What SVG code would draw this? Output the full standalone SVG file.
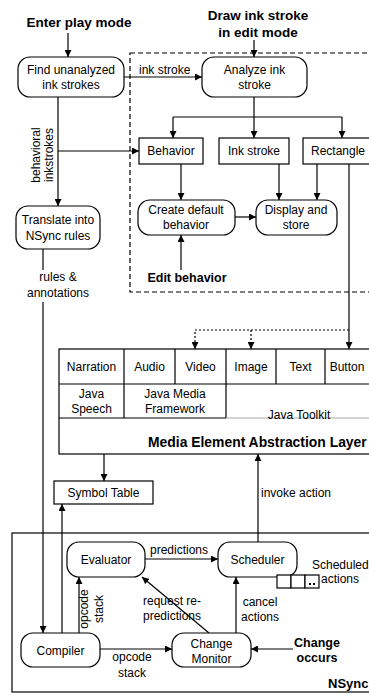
<svg xmlns="http://www.w3.org/2000/svg" width="369" height="696" viewBox="0 0 369 696">
<defs>
<marker id="ah" viewBox="0 0 8 8" refX="8" refY="4" markerWidth="7" markerHeight="7" orient="auto" markerUnits="userSpaceOnUse"><path d="M0,0 L8,4 L0,8 z" fill="#000"/></marker>
<style>
text{font-family:"Liberation Sans",Arial,sans-serif;font-size:12px;fill:#000}
.m{text-anchor:middle}
.b{font-weight:bold;font-size:13.5px}
.bs{font-weight:bold;font-size:12.5px}
.box{fill:#fff;stroke:#000;stroke-width:1.2}
.ln{fill:none;stroke:#000;stroke-width:1.2}
.ar{fill:none;stroke:#000;stroke-width:1.2;marker-end:url(#ah)}
.dt{fill:none;stroke:#000;stroke-width:1.2;stroke-dasharray:2,2}
</style>
</defs>
<rect width="369" height="696" fill="#fff"/>
<g id="titles">
<text class="b m" x="79" y="27">Enter play mode</text>
<text class="b m" x="258" y="20">Draw ink stroke</text>
<text class="b m" x="258" y="37">in edit mode</text>
</g>
<rect id="edit-mode-region" x="130" y="53" width="250" height="239" fill="none" stroke="#000" stroke-width="1.2" stroke-dasharray="5,3"/>
<g id="connectors">
<path class="ar" d="M68,33 V57"/>
<path class="ar" d="M254,40 V57"/>
<path class="ar" d="M124,77 H202"/>
<path class="ar" d="M254,97 V138"/>
<path class="ln" d="M173,117 H342"/>
<path class="ar" d="M173,117 V138"/>
<path class="ar" d="M342,117 V138"/>
<path class="ar" d="M58,97 V206"/>
<path class="ar" d="M58,151 H139"/>
<path class="ar" d="M181,164 V200"/>
<path class="ar" d="M279,164 V200"/>
<path class="ar" d="M317,164 V200"/>
<path class="ar" d="M235,217 H256"/>
<path class="ar" d="M181,270 V235"/>
<path class="ar" d="M349,164 V349"/>
<path class="dt" d="M349,330 H195 V343"/>
<path class="ar" d="M195,342 V349"/>
<path class="dt" d="M251,330 V343"/>
<path class="ar" d="M251,342 V349"/>
<path class="ln" d="M43,249 V270"/>
<path class="ar" d="M43,302 V633"/>
<path class="ar" d="M104,454 V481"/>
<path class="ar" d="M62,633 V504"/>
<path class="ar" d="M258,542 V454"/>
<path class="ar" d="M145,559 H218"/>
<path class="ar" d="M79,633 V577"/>
<path class="ar" d="M100,649 H172"/>
<path class="ar" d="M236,633 V577"/>
<path class="ar" d="M209,633 L142,577"/>
<path class="ar" d="M293,649 H251"/>
<text x="139" y="74">ink stroke</text>
<text class="m" transform="translate(40,155) rotate(-90)">behavioral</text>
<text class="m" transform="translate(53,155) rotate(-90)">inkstrokes</text>
<text class="m" x="58" y="281">rules &amp;</text>
<text class="m" x="58" y="297">annotations</text>
<text x="261" y="497">invoke action</text>
<text x="150" y="554">predictions</text>
<text class="m" transform="translate(88,609) rotate(-90)">opcode</text>
<text class="m" transform="translate(103,609) rotate(-90)">stack</text>
<text class="m" x="132" y="661">opcode</text>
<text class="m" x="132" y="677">stack</text>
<text class="m" x="260" y="606">cancel</text>
<text class="m" x="260" y="621">actions</text>
<text class="m" x="172" y="605">request re-</text>
<text class="m" x="172" y="620">predictions</text>
</g>
<g id="find">
<rect class="box" x="18" y="57" width="106" height="40" rx="12"/>
<text class="m" x="71" y="74">Find unanalyzed</text>
<text class="m" x="71" y="89">ink strokes</text>
</g>
<g id="analyze">
<rect class="box" x="202" y="57" width="105" height="40" rx="12"/>
<text class="m" x="254.5" y="74">Analyze ink</text>
<text class="m" x="254.5" y="89">stroke</text>
</g>
<g id="behavior">
<rect class="box" x="139" y="138" width="64" height="26"/>
<text class="m" x="171" y="155">Behavior</text>
</g>
<g id="inkstroke">
<rect class="box" x="219" y="138" width="70" height="26"/>
<text class="m" x="254" y="155">Ink stroke</text>
</g>
<g id="rectangle">
<rect class="box" x="303" y="138" width="72" height="26"/>
<text class="m" x="338" y="155">Rectangle</text>
</g>
<g id="create">
<rect class="box" x="138" y="200" width="97" height="35" rx="12"/>
<text class="m" x="186" y="214">Create default</text>
<text class="m" x="186" y="229">behavior</text>
</g>
<g id="display">
<rect class="box" x="256" y="200" width="81" height="35" rx="12"/>
<text class="m" x="296" y="214">Display and</text>
<text class="m" x="296" y="229">store</text>
</g>
<g id="edit-behavior">
<text class="bs m" x="187" y="282">Edit behavior</text>
</g>
<g id="translate">
<rect class="box" x="16" y="206" width="84" height="43" rx="12"/>
<text class="m" x="58" y="224">Translate into</text>
<text class="m" x="58" y="240">NSync rules</text>
</g>
<g id="media-layer">
<rect class="box" x="59" y="349" width="320" height="105"/>
<path class="ln" d="M59,384 H369 M124,349 V418 M175,349 V384 M226,349 V418 M276,349 V384 M325,349 V384 M59,418 H226"/>
<path d="M226,418 H369" stroke="#aaa" stroke-width="1" fill="none"/>
<text class="m" x="91.5" y="371">Narration</text>
<text class="m" x="149.5" y="371">Audio</text>
<text class="m" x="200.5" y="371">Video</text>
<text class="m" x="251" y="371">Image</text>
<text class="m" x="300.5" y="371">Text</text>
<text class="m" x="347" y="371">Button</text>
<text class="m" x="91.5" y="398">Java</text>
<text class="m" x="91.5" y="413">Speech</text>
<text class="m" x="175" y="398">Java Media</text>
<text class="m" x="175" y="413">Framework</text>
<text class="m" x="299" y="419">Java Toolkit</text>
<text x="148" y="447" style="font-weight:bold;font-size:13.9px">Media Element Abstraction Layer</text>
</g>
<g id="symbol-table">
<rect class="box" x="54" y="481" width="99" height="23"/>
<text class="m" x="103.5" y="497">Symbol Table</text>
</g>
<g id="nsync">
<rect x="12" y="533" width="370" height="159" fill="none" stroke="#000" stroke-width="1.2"/>
<text x="328" y="688" style="font-weight:bold;font-size:13px">NSync</text>
</g>
<g id="evaluator">
<rect class="box" x="67" y="542" width="78" height="35" rx="12"/>
<text class="m" x="106" y="564">Evaluator</text>
</g>
<g id="scheduler">
<rect class="box" x="218" y="542" width="79" height="35" rx="12"/>
<text class="m" x="257.5" y="564">Scheduler</text>
</g>
<g id="scheduled-actions">
<rect class="box" x="277" y="575" width="14" height="13"/>
<rect class="box" x="291" y="575" width="14" height="13"/>
<rect class="box" x="305" y="575" width="14" height="13"/>
<rect x="309" y="583" width="2" height="2" fill="#000"/>
<rect x="313" y="583" width="2" height="2" fill="#000"/>
<text x="312" y="569">Scheduled</text>
<text x="321" y="583">actions</text>
</g>
<g id="compiler">
<rect class="box" x="21" y="633" width="79" height="34" rx="12"/>
<text class="m" x="60.5" y="655">Compiler</text>
</g>
<g id="change-monitor">
<rect class="box" x="172" y="633" width="79" height="34" rx="12"/>
<text class="m" x="211.5" y="648">Change</text>
<text class="m" x="211.5" y="663">Monitor</text>
</g>
<g id="change-occurs">
<text class="bs m" x="317" y="647">Change</text>
<text class="bs m" x="317" y="662">occurs</text>
</g>
</svg>
